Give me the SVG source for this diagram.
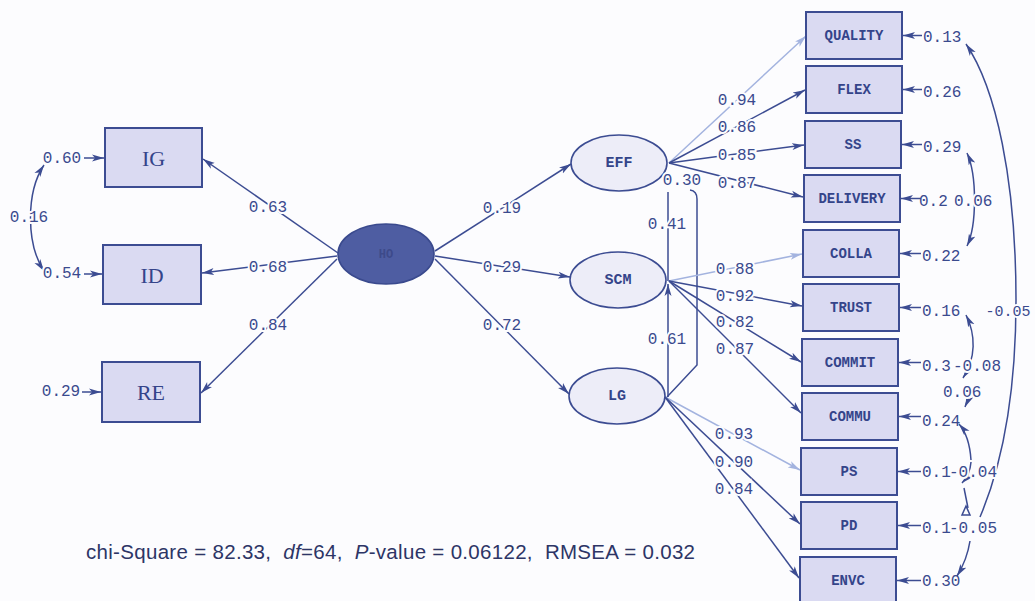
<svg xmlns="http://www.w3.org/2000/svg" width="1035" height="601" viewBox="0 0 1035 601">
<style>
.bg{fill:#fcfcfe}
.box{fill:#dadaf2;stroke:#3c4c92;stroke-width:2}
.lat{fill:#ededf8;stroke:#3c4c92;stroke-width:1.6}
.ln{fill:none;stroke:#3c4c92;stroke-width:1.5}
.lt{fill:none;stroke:#a3b3df;stroke-width:1.5}
.num{font-family:"Liberation Mono","DejaVu Sans Mono",monospace;font-size:16px;fill:#3a4a8e;stroke:#fcfcfe;stroke-width:4;paint-order:stroke;dominant-baseline:central}
.res{font-family:"Liberation Mono","DejaVu Sans Mono",monospace;font-size:16px;fill:#3a4a8e;dominant-baseline:central}
.bl{font-family:"Liberation Mono","DejaVu Sans Mono",monospace;font-size:14px;font-weight:bold;fill:#34448a;text-anchor:middle;dominant-baseline:central}
.el{font-family:"Liberation Mono","DejaVu Sans Mono",monospace;font-size:15px;font-weight:bold;fill:#34448a;text-anchor:middle;dominant-baseline:central}
.sb{font-family:"Liberation Serif","Times New Roman",serif;font-size:22px;fill:#34448a;text-anchor:middle;dominant-baseline:central}
.c{text-anchor:middle}
.fit{font-family:"Liberation Sans",Arial,sans-serif;font-size:20.5px;fill:#2d3566;white-space:pre}
</style>
<defs>
<marker id="a" viewBox="0 0 12 8" refX="12" refY="4" markerWidth="12" markerHeight="8" markerUnits="userSpaceOnUse" orient="auto-start-reverse"><path d="M0,0.5 L12,4 L0,7.5 L3,4 z" fill="#3c4c92"/></marker>
<marker id="al" viewBox="0 0 12 8" refX="12" refY="4" markerWidth="12" markerHeight="8" markerUnits="userSpaceOnUse" orient="auto"><path d="M0,0.5 L12,4 L0,7.5 L3,4 z" fill="#a3b3df"/></marker>
</defs>
<rect class="bg" x="0" y="0" width="1035" height="601"/>

<g id="connectors">
<!-- HO to first-order -->
<path class="ln" d="M338,253 L203,159" marker-end="url(#a)"/>
<path class="ln" d="M337,256 L202,273" marker-end="url(#a)"/>
<path class="ln" d="M337,259 L201,393" marker-end="url(#a)"/>
<path class="ln" d="M435,251 L571,164" marker-end="url(#a)"/>
<path class="ln" d="M435,256 L570,277" marker-end="url(#a)"/>
<path class="ln" d="M435,259 L569,394" marker-end="url(#a)"/>
<!-- left residuals and covariance -->
<path class="ln" d="M84,158 L104,158" marker-end="url(#a)"/>
<path class="ln" d="M84,274 L102,274" marker-end="url(#a)"/>
<path class="ln" d="M82,392 L101,392" marker-end="url(#a)"/>
<path class="ln" d="M44,165 C26,192 26,244 44,271" marker-start="url(#a)" marker-end="url(#a)"/>
<!-- latent correlations -->
<path class="ln" d="M668,192 L668,281"/>
<path class="ln" d="M668,397 L668,284" marker-end="url(#a)"/>
<path class="ln" d="M690,190 Q697,191 697,199 L697,365 L667,397"/>
<!-- EFF loadings -->
<path class="lt" d="M669,163 L806,36" marker-end="url(#al)"/>
<path class="ln" d="M669,163 L805,90" marker-end="url(#a)"/>
<path class="ln" d="M669,163 L804,145" marker-end="url(#a)"/>
<path class="ln" d="M669,163 L803,197" marker-end="url(#a)"/>
<!-- SCM loadings -->
<path class="lt" d="M669,281 L802,254" marker-end="url(#al)"/>
<path class="ln" d="M669,281 L802,306" marker-end="url(#a)"/>
<path class="ln" d="M669,281 L801,362" marker-end="url(#a)"/>
<path class="ln" d="M669,281 L801,413" marker-end="url(#a)"/>
<!-- LG loadings -->
<path class="lt" d="M665,397 L800,470" marker-end="url(#al)"/>
<path class="ln" d="M665,397 L800,524" marker-end="url(#a)"/>
<path class="ln" d="M665,397 L799,578" marker-end="url(#a)"/>
<!-- right residual arrows -->
<path class="ln" d="M922,35.5 L903,35.5" marker-end="url(#a)"/>
<path class="ln" d="M922,89.5 L903,89.5" marker-end="url(#a)"/>
<path class="ln" d="M922,144.5 L902,144.5" marker-end="url(#a)"/>
<path class="ln" d="M921,198.5 L901,198.5" marker-end="url(#a)"/>
<path class="ln" d="M921,253.5 L900,253.5" marker-end="url(#a)"/>
<path class="ln" d="M921,307.5 L900,307.5" marker-end="url(#a)"/>
<path class="ln" d="M921,362.5 L899,362.5" marker-end="url(#a)"/>
<path class="ln" d="M921,416.5 L899,416.5" marker-end="url(#a)"/>
<path class="ln" d="M921,471.5 L898,471.5" marker-end="url(#a)"/>
<path class="ln" d="M921,525.5 L898,525.5" marker-end="url(#a)"/>
<path class="ln" d="M921,580.5 L897,580.5" marker-end="url(#a)"/>
<!-- error covariances -->
<path class="ln" d="M980,517 C1000,470 1016,400 1016,300 C1016,180 996,88 966,44" marker-end="url(#a)"/>
<path class="ln" d="M967,153 C977,175 977,225 967,246" marker-start="url(#a)" marker-end="url(#a)"/>
<path class="ln" d="M966,315 C976,335 976,358 963,378" marker-start="url(#a)" marker-end="url(#a)"/>
<path class="ln" d="M966,386 Q970,396 965,407" marker-end="url(#a)"/>
<path class="ln" d="M971,460 C970,445 966,432 959,424" marker-end="url(#a)"/>
<path class="ln" d="M971,462 Q970,475 962,483" marker-end="url(#a)"/>
<path class="ln" d="M964,488 L968,508"/>
<polygon points="966,506 962,515 970,515" fill="none" stroke="#3c4c92" stroke-width="1.5"/>
<path class="ln" d="M970,541 Q967,560 957,576" marker-end="url(#a)"/>
</g>

<g id="IG"><rect class="box" x="105" y="128" width="97" height="59"/><text class="sb" x="153.5" y="158">IG</text></g>
<g id="ID"><rect class="box" x="103" y="245" width="98" height="59"/><text class="sb" x="152" y="275">ID</text></g>
<g id="RE"><rect class="box" x="102" y="362" width="98" height="60"/><text class="sb" x="151" y="392">RE</text></g>

<g id="HO"><ellipse cx="386" cy="254" rx="48" ry="30" fill="#4e5da2" stroke="#3a4a8e" stroke-width="1.6"/><text class="el" x="386" y="255" style="fill:#3d4a8a;font-size:12px">HO</text></g>
<g id="EFF"><ellipse class="lat" cx="619" cy="163" rx="48" ry="28"/><text class="el" x="619" y="163">EFF</text></g>
<g id="SCM"><ellipse class="lat" cx="618" cy="280" rx="48" ry="28"/><text class="el" x="618" y="280">SCM</text></g>
<g id="LG"><ellipse class="lat" cx="617" cy="396" rx="48" ry="28"/><text class="el" x="617" y="396">LG</text></g>

<g id="QUALITY"><rect class="box" x="806" y="12" width="96" height="47"/><text class="bl" x="854" y="36">QUALITY</text></g>
<g id="FLEX"><rect class="box" x="806" y="66" width="96" height="47"/><text class="bl" x="854" y="90">FLEX</text></g>
<g id="SS"><rect class="box" x="805" y="121" width="96" height="47"/><text class="bl" x="853" y="145">SS</text></g>
<g id="DELIVERY"><rect class="box" x="804" y="175" width="96" height="47"/><text class="bl" x="852" y="199">DELIVERY</text></g>
<g id="COLLA"><rect class="box" x="803" y="230" width="96" height="47"/><text class="bl" x="851" y="254">COLLA</text></g>
<g id="TRUST"><rect class="box" x="803" y="284" width="96" height="47"/><text class="bl" x="851" y="308">TRUST</text></g>
<g id="COMMIT"><rect class="box" x="802" y="339" width="96" height="47"/><text class="bl" x="850" y="363">COMMIT</text></g>
<g id="COMMU"><rect class="box" x="802" y="393" width="96" height="47"/><text class="bl" x="850" y="417">COMMU</text></g>
<g id="PS"><rect class="box" x="801" y="448" width="96" height="47"/><text class="bl" x="849" y="472">PS</text></g>
<g id="PD"><rect class="box" x="801" y="502" width="96" height="47"/><text class="bl" x="849" y="526">PD</text></g>
<g id="ENVC"><rect class="box" x="800" y="557" width="96" height="47"/><text class="bl" x="848" y="581">ENVC</text></g>

<g id="labels">
<text class="num c" x="268" y="208">0.63</text>
<text class="num c" x="268" y="268">0.68</text>
<text class="num c" x="268" y="326">0.84</text>
<text class="num c" x="502" y="209">0.19</text>
<text class="num c" x="502" y="268">0.29</text>
<text class="num c" x="502" y="326">0.72</text>
<text class="num c" x="62" y="159">0.60</text>
<text class="num c" x="62" y="274">0.54</text>
<text class="num c" x="61" y="392">0.29</text>
<text class="num c" x="29" y="218">0.16</text>
<text class="num c" x="667" y="225">0.41</text>
<text class="num c" x="667" y="340">0.61</text>
<text class="num c" x="682" y="181">0.30</text>
<text class="num c" x="737" y="101">0.94</text>
<text class="num c" x="737" y="128">0.86</text>
<text class="num c" x="737" y="156">0.85</text>
<text class="num c" x="737" y="184">0.87</text>
<text class="num c" x="735" y="270">0.88</text>
<text class="num c" x="735" y="297">0.92</text>
<text class="num c" x="735" y="323">0.82</text>
<text class="num c" x="735" y="350">0.87</text>
<text class="num c" x="734" y="435">0.93</text>
<text class="num c" x="734" y="463">0.90</text>
<text class="num c" x="734" y="490">0.84</text>
<text class="res" x="923" y="38">0.13</text>
<text class="res" x="923" y="93">0.26</text>
<text class="res" x="923" y="148">0.29</text>
<text class="res" x="919" y="202">0.2</text>
<text class="num" x="954" y="202">0.06</text>
<text class="res" x="922" y="257">0.22</text>
<text class="res" x="922" y="312">0.16</text>
<text class="num c" x="1008" y="312" style="font-size:15px">-0.05</text>
<text class="res" x="922" y="367">0.3</text>
<text class="num" x="953" y="367">-0.08</text>
<text class="num" x="943" y="393">0.06</text>
<text class="res" x="922" y="422">0.24</text>
<text class="res" x="922" y="473">0.1</text>
<text class="num" x="949" y="473">-0.04</text>
<text class="res" x="922" y="529">0.1</text>
<text class="num" x="949" y="529">-0.05</text>
<text class="res" x="922" y="582">0.30</text>
<text class="fit" x="86" y="559" textLength="609" lengthAdjust="spacing">chi-Square = 82.33,  <tspan font-style="italic">df</tspan>=64,  <tspan font-style="italic">P</tspan>-value = 0.06122,  RMSEA = 0.032</text>
</g>
</svg>
